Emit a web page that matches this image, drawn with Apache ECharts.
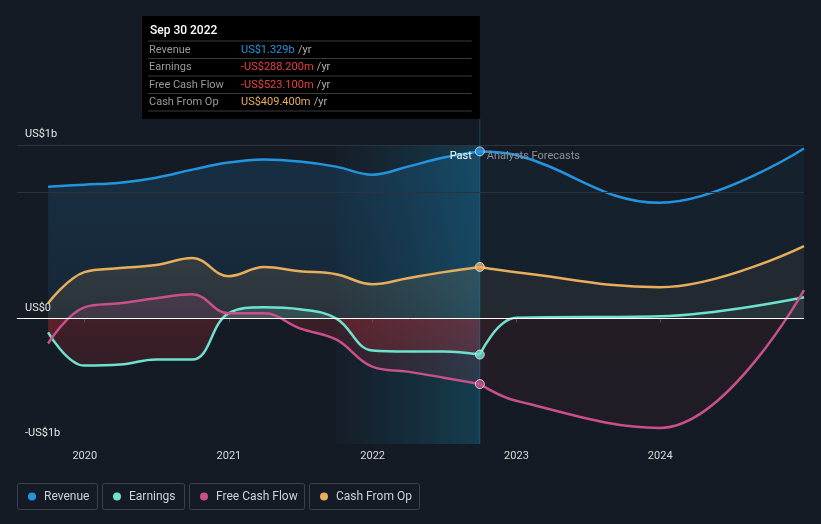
<!DOCTYPE html>
<html><head><meta charset="utf-8">
<script src="https://cdn.jsdelivr.net/npm/echarts@6/dist/echarts.min.js"></script>
<style>html,body{margin:0;padding:0;background:#151b24;}#c{width:821px;height:524px;}</style>
</head><body><div id="c"></div>
<script>
// ---- data ----
const pastDates = ['2019-09-30','2019-12-31','2020-03-31','2020-06-30','2020-09-30','2020-12-31','2021-03-31','2021-06-30','2021-09-30','2021-12-31','2022-03-31','2022-06-30','2022-09-30'];
const forecastDates = ['2022-09-30','2022-12-31','2023-12-31','2024-12-31'];
const revenuePast = [1048,1064,1080,1120,1184,1240,1264,1248,1208,1144,1208,1280,1329];
const revenueForecast = [1329,1300,920,1352];
const earningsPast = [-112,-376,-368,-328,-328,40,88,72,0,-256,-264,-264,-288.2];
const earningsForecast = [-288.2,4,16,168];
const fcfPast = [-200,88,120,160,192,40,40,-80,-168,-384,-424,-472,-523.1];
const fcfForecast = [-523.1,-656,-872,224];
const cfoPast = [120,368,400,424,480,336,408,376,352,272,320,368,409.4];
const cfoForecast = [409.4,368,248,576];
const seriesNames = ['Revenue','Earnings','Free Cash Flow','Cash From Op'];
const seriesColors = ['#2394df','#6ee2cf','#c8508b','#e8ae5c'];
const yTickValues = [-1000,0,1380];
const yTickLabels = ['-US$1b','US$0','US$1b'];
const yGridLines = [1000,1380];
const xTickDates = ['2020-01-01','2021-01-01','2022-01-01','2023-01-01','2024-01-01'];
const xRange = ['2019-07-13','2024-12-31'];
const highlightRange = ['2021-09-30','2022-09-30'];
const tooltipTitle = 'Sep 30 2022';
const pastLabel = 'Past';
const forecastLabel = 'Analysts Forecasts';

const FONT = 'Roboto, "Noto Sans", sans-serif';
const ts = d => Date.parse(d + 'T00:00:00Z');
const chart = echarts.init(document.getElementById('c'), null, {renderer:'canvas'});

function fmt(v){
  const a = Math.abs(v);
  const s = a >= 1000 ? (a/1000).toFixed(3)+'b' : a.toFixed(3)+'m';
  return (v<0?'-':'')+'US$'+s;
}
function rgba(hex,a){
  const n=parseInt(hex.slice(1),16);
  return 'rgba('+(n>>16&255)+','+(n>>8&255)+','+(n&255)+','+a+')';
}
const pair = (dates, vals) => dates.map((d,i)=>[ts(d), vals[i]]);

const grid = {left:17, right:17, top:145, bottom:80};
const baseOption = {
  backgroundColor:'#151b24',
  animation:false,
  textStyle:{fontFamily:FONT},
  grid: grid,
  xAxis:{
    type:'value', min:ts(xRange[0]), max:ts(xRange[1]),
    axisLine:{lineStyle:{color:'#4b515b', width:1}},
    axisTick:{show:true, customValues:xTickDates.map(ts), length:4, lineStyle:{color:'#4b515b'}},
    axisLabel:{customValues:xTickDates.map(ts), color:'#dcdcdc', fontSize:11, margin:7, fontFamily:FONT,
      formatter:v=>String(new Date(v).getUTCFullYear())},
    splitLine:{show:false}
  },
  yAxis:{
    type:'value', min:yTickValues[0], max:yTickValues[2],
    axisLine:{show:false}, axisTick:{show:false}, splitLine:{show:false},
    axisLabel:{customValues:yTickValues, inside:true, verticalAlign:'bottom', margin:8, color:'#e6e6e6', fontSize:11,
      padding:[0,0,5,0], fontFamily:FONT,
      formatter:v=>{const i=yTickValues.indexOf(v);return i>=0?yTickLabels[i]:'';}}
  },
  series:[{type:'line', data:[]}]
};
chart.setOption(baseOption);

const zeroPx = chart.convertToPixel({yAxisIndex:0}, 0);
const topPx = chart.convertToPixel({yAxisIndex:0}, yTickValues[2]);
const botPx = chart.convertToPixel({yAxisIndex:0}, yTickValues[0]);
const divX = chart.convertToPixel({xAxisIndex:0}, ts(highlightRange[1]));
const zOff = (zeroPx-topPx)/(botPx-topPx);

function splitGrad(color, aTop, aZero, redTop, redBot){
  return new echarts.graphic.LinearGradient(0, topPx, 0, botPx, [
    {offset:0, color:rgba(color,aTop)},
    {offset:zOff, color:rgba(color,aZero)},
    {offset:zOff, color:'rgba(200,44,52,'+redTop+')'},
    {offset:1, color:'rgba(200,44,52,'+redBot+')'}
  ], true);
}

function lineSeries(name, data, color, area, z){
  return {name:name, type:'line', data:data, smooth:0.4, symbol:'none', z:z||2,
    lineStyle:{color:color, width:2.5}, itemStyle:{color:color},
    areaStyle:{color:area, origin:'auto'}, silent:true};
}

const series = [
  {type:'line', data:[], silent:true, z:1,
    markArea:{silent:true, itemStyle:{color:new echarts.graphic.LinearGradient(0,0,1,0,[
      {offset:0,color:'rgba(20,110,150,0.04)'},{offset:1,color:'rgba(20,140,180,0.30)'}])},
      data:[[{xAxis:ts(highlightRange[0])},{xAxis:ts(highlightRange[1])}]]},
    markLine:{silent:true, symbol:'none', label:{show:false},
      lineStyle:{color:'#2c333d', width:1, type:'solid'},
      data:yGridLines.map(v=>({yAxis:v}))}
  },
  lineSeries('Revenue', pair(pastDates, revenuePast), seriesColors[0],
    new echarts.graphic.LinearGradient(0, topPx, 0, zeroPx, [{offset:0,color:'rgba(35,148,223,0.24)'},{offset:1,color:'rgba(35,148,223,0.14)'}], true)),
  lineSeries('Revenue', pair(forecastDates, revenueForecast), seriesColors[0], 'rgba(35,148,223,0.07)'),
  lineSeries('Cash From Op', pair(pastDates, cfoPast), seriesColors[3],
    new echarts.graphic.LinearGradient(0, topPx, 0, zeroPx, [{offset:0,color:'rgba(232,174,92,0.32)'},{offset:1,color:'rgba(232,174,92,0.12)'}], true)),
  lineSeries('Cash From Op', pair(forecastDates, cfoForecast), seriesColors[3], 'rgba(232,174,92,0.09)'),
  lineSeries('Earnings', pair(pastDates, earningsPast), seriesColors[1], splitGrad(seriesColors[1],0.3,0.22,0.34,0.06)),
  lineSeries('Earnings', pair(forecastDates, earningsForecast), seriesColors[1], splitGrad(seriesColors[1],0.12,0.08,0.08,0.03)),
  lineSeries('Free Cash Flow', pair(pastDates, fcfPast), seriesColors[2], splitGrad(seriesColors[2],0.3,0.22,0.3,0.06)),
  lineSeries('Free Cash Flow', pair(forecastDates, fcfForecast), seriesColors[2], splitGrad(seriesColors[2],0.1,0.06,0.12,0.07)),
  {type:'line', data:[], silent:true, z:5,
    markLine:{silent:true, symbol:'none', label:{show:false},
      lineStyle:{color:'#ffffff', width:1, type:'solid'}, data:[{yAxis:0}]}},
  {type:'scatter', silent:true, z:6, symbolSize:9,
    data:[revenuePast, earningsPast, fcfPast, cfoPast].map((arr,i)=>({
      value:[ts(pastDates[pastDates.length-1]), arr[arr.length-1]],
      itemStyle:{color:seriesColors[i], borderColor:'#e8e8e8', borderWidth:1}
    }))}
];

const lastVals = [revenuePast, earningsPast, fcfPast, cfoPast].map(a=>a[a.length-1]);
const valColors = lastVals.map((v,i)=> v<0 ? '#e8423f' : (i===0?'#2394df':'#e8ae5c'));
const boxLeft = 142, boxTop = 16, boxBottom = 119;
const g = [];
g.push({type:'rect', shape:{x:boxLeft, y:boxTop, width:divX-boxLeft, height:boxBottom-boxTop}, style:{fill:'#000000'}, z:10});
g.push({type:'line', shape:{x1:divX, y1:boxBottom, x2:divX, y2:botPx}, style:{stroke:'rgba(35,148,223,0.35)', lineWidth:1}, z:3});
g.push({type:'text', x:boxLeft+8, y:31, style:{text:tooltipTitle, fill:'#ffffff', font:'500 12px '+FONT, verticalAlign:'middle'}, z:11});
const sepY = [41, 58.5, 76, 93.5, 111];
sepY.forEach(y=>g.push({type:'line', shape:{x1:boxLeft+6, y1:y, x2:divX-8, y2:y}, style:{stroke:'#3a3a3a', lineWidth:1}, z:11}));
seriesNames.forEach((n,i)=>{
  const cy = (sepY[i]+sepY[i+1])/2;
  g.push({type:'text', x:boxLeft+7, y:cy, style:{text:n, fill:'#9a9a9a', font:'11px '+FONT, verticalAlign:'middle'}, z:11});
  g.push({type:'text', x:boxLeft+99, y:cy, style:{
    text:'{v|'+fmt(lastVals[i])+'} {u|/yr}', verticalAlign:'middle',
    rich:{v:{fill:valColors[i], font:'11px '+FONT}, u:{fill:'#b0b0b0', font:'11px '+FONT}}}, z:11});
});
g.push({type:'text', x:divX-8, y:156, style:{text:pastLabel, fill:'#ffffff', font:'11px '+FONT, align:'right', verticalAlign:'middle'}, z:11});
g.push({type:'text', x:divX+7, y:156, style:{text:forecastLabel, fill:'#8b919a', font:'11px '+FONT, align:'left', verticalAlign:'middle'}, z:11});
const legBoxes = [[17,80],[102,82],[189,115],[309,110]];
seriesNames.forEach((n,i)=>{
  const [x,w] = legBoxes[i];
  g.push({type:'rect', shape:{x:x+0.5, y:483.5, width:w, height:26, r:2}, style:{fill:'none', stroke:'#3c424c', lineWidth:1}, z:11});
  g.push({type:'circle', shape:{cx:x+15, cy:496.5, r:4}, style:{fill:seriesColors[i]}, z:11});
  g.push({type:'text', x:x+27, y:496.5, style:{text:n, fill:'#cfd2d6', font:'12px '+FONT, verticalAlign:'middle'}, z:11});
});

chart.setOption({series:series, graphic:g}, {replaceMerge:['series']});
</script></body></html>
